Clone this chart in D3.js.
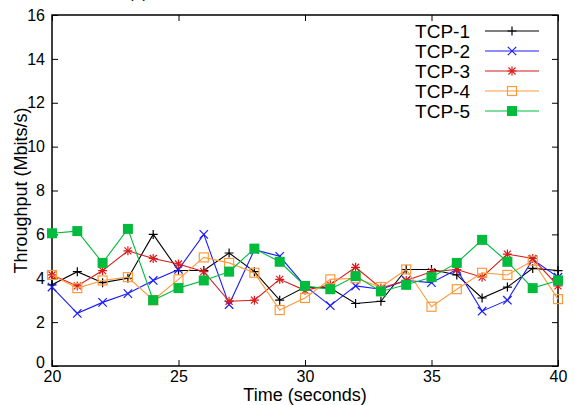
<!DOCTYPE html>
<html>
<head>
<meta charset="utf-8">
<script src="https://cdn.jsdelivr.net/npm/d3@7"></script>
<style>
  body { margin: 0; background: #fff; }
  svg { display: block; font-family: "Liberation Sans", Arial, sans-serif; }
</style>
</head>
<body>
<div id="chart"></div>
<script>
// time axis (seconds)
const times = [20, 21, 22, 23, 24, 25, 26, 27, 28, 29, 30, 31, 32, 33, 34, 35, 36, 37, 38, 39, 40];

// throughput per flow (Mbits/s)
const tcp1 = [3.7, 4.3, 3.8, 4.0, 6.0, 4.35, 4.35, 5.15, 4.3, 3.0, 3.6, 3.55, 2.85, 2.95, 4.4, 4.4, 4.15, 3.1, 3.6, 4.45, 4.35];
const tcp2 = [3.6, 2.4, 2.9, 3.3, 3.9, 4.4, 6.0, 2.8, 5.3, 5.0, 3.65, 2.75, 3.65, 3.5, 3.9, 3.8, 4.4, 2.5, 3.0, 4.85, 4.05];
const tcp3 = [4.15, 3.65, 4.35, 5.25, 4.9, 4.65, 4.3, 2.95, 3.0, 3.95, 3.45, 3.7, 4.5, 3.55, 3.9, 4.3, 4.4, 4.05, 5.1, 4.9, 3.65];
const tcp4 = [4.15, 3.55, 3.9, 4.05, 3.0, 3.95, 4.95, 4.7, 4.25, 2.55, 3.1, 3.95, 4.0, 3.6, 4.4, 2.7, 3.5, 4.25, 4.15, 4.8, 3.05];
const tcp5 = [6.05, 6.15, 4.7, 6.25, 3.0, 3.55, 3.9, 4.3, 5.35, 4.75, 3.65, 3.5, 4.1, 3.4, 3.7, 4.05, 4.7, 5.75, 4.75, 3.55, 3.9];

const seriesNames = ["TCP-1", "TCP-2", "TCP-3", "TCP-4", "TCP-5"];
const seriesValues = [tcp1, tcp2, tcp3, tcp4, tcp5];
const seriesColors = ["#000000", "#1a1aff", "#d81b1b", "#ff9a3c", "#00bb3c"];
const seriesMarkers = ["plus", "cross", "star", "square", "filled"];

const xTicks = [20, 25, 30, 35, 40];
const yTicks = [0, 2, 4, 6, 8, 10, 12, 14, 16];

const W = 574, H = 405;
const margin = { top: 15, right: 16, bottom: 39, left: 52 };

const svg = d3.select("#chart").append("svg")
  .attr("width", W).attr("height", H);

const x = d3.scaleLinear().domain([20, 40]).range([margin.left, W - margin.right]);
const y = d3.scaleLinear().domain([0, 16]).range([H - margin.bottom, margin.top]);

// caption, mostly cut off at the top of the picture
svg.append("text")
  .attr("x", 138).attr("y", -2)
  .attr("text-anchor", "middle")
  .attr("font-size", 16)
  .text("(a)");

const tickLen = 6;

// bottom axis + mirrored top ticks
const xAxis = svg.append("g")
  .attr("transform", `translate(0,${y(0)})`)
  .call(d3.axisBottom(x).tickValues(xTicks).tickSize(-tickLen).tickPadding(5));
xAxis.selectAll("text").attr("font-size", 16).attr("fill", "#000");

svg.append("g")
  .attr("transform", `translate(0,${y(16)})`)
  .call(d3.axisTop(x).tickValues(xTicks).tickSize(-tickLen).tickFormat(""));

// left axis + mirrored right ticks
const yAxis = svg.append("g")
  .attr("transform", `translate(${x(20)},0)`)
  .call(d3.axisLeft(y).tickValues(yTicks).tickSize(-tickLen).tickPadding(7));
yAxis.selectAll("text").attr("font-size", 16).attr("fill", "#000");
yAxis.selectAll(".tick").filter(d => d === 0).select("text").attr("dy", "0.1em");

svg.append("g")
  .attr("transform", `translate(${x(40)},0)`)
  .call(d3.axisRight(y).tickValues(yTicks).tickSize(-tickLen).tickFormat(""));

svg.selectAll(".domain").remove();
svg.selectAll(".tick line").attr("stroke", "#000");

// frame
svg.append("rect")
  .attr("x", x(20)).attr("y", y(16))
  .attr("width", x(40) - x(20)).attr("height", y(0) - y(16))
  .attr("fill", "none").attr("stroke", "#000").attr("stroke-width", 1.5);

// axis titles
svg.append("text")
  .attr("x", (x(20) + x(40)) / 2).attr("y", 401)
  .attr("text-anchor", "middle")
  .attr("font-size", 18)
  .text("Time (seconds)");

svg.append("text")
  .attr("transform", `translate(27,${(y(0) + y(16)) / 2}) rotate(-90)`)
  .attr("text-anchor", "middle")
  .attr("font-size", 18)
  .text("Throughput (Mbits/s)");

function drawMarker(g, type, color, cx, cy) {
  const s = 4.5;
  if (type === "plus" || type === "star") {
    g.append("path")
      .attr("d", `M${cx - s},${cy}H${cx + s}M${cx},${cy - s}V${cy + s}`)
      .attr("stroke", color).attr("stroke-width", 1.2);
  }
  if (type === "cross" || type === "star") {
    const c = type === "star" ? 3.5 : 4.2;
    g.append("path")
      .attr("d", `M${cx - c},${cy - c}L${cx + c},${cy + c}M${cx - c},${cy + c}L${cx + c},${cy - c}`)
      .attr("stroke", color).attr("stroke-width", 1.2);
  }
  if (type === "square") {
    g.append("rect")
      .attr("x", cx - 4.5).attr("y", cy - 4.5).attr("width", 9).attr("height", 9)
      .attr("fill", "none").attr("stroke", color).attr("stroke-width", 1.2);
  }
  if (type === "filled") {
    g.append("rect")
      .attr("x", cx - 5).attr("y", cy - 5).attr("width", 10).attr("height", 10)
      .attr("fill", color);
  }
}

const line = d3.line().x(d => x(d[0])).y(d => y(d[1]));

seriesValues.forEach((vals, i) => {
  const pts = times.map((t, j) => [t, vals[j]]);
  const g = svg.append("g");
  g.append("path")
    .datum(pts)
    .attr("d", line)
    .attr("fill", "none")
    .attr("stroke", seriesColors[i])
    .attr("stroke-width", 1.1);
  pts.forEach(p => drawMarker(g, seriesMarkers[i], seriesColors[i], x(p[0]), y(p[1])));
});

// legend
const legend = svg.append("g");
seriesNames.forEach((name, i) => {
  const ly = 31 + i * 20;
  legend.append("text")
    .attr("x", 470).attr("y", ly)
    .attr("dy", "0.35em")
    .attr("text-anchor", "end")
    .attr("font-size", 19)
    .text(name);
  legend.append("line")
    .attr("x1", 485).attr("x2", 539)
    .attr("y1", ly).attr("y2", ly)
    .attr("stroke", seriesColors[i]).attr("stroke-width", 1.1);
  drawMarker(legend, seriesMarkers[i], seriesColors[i], 512, ly);
});
</script>
</body>
</html>
